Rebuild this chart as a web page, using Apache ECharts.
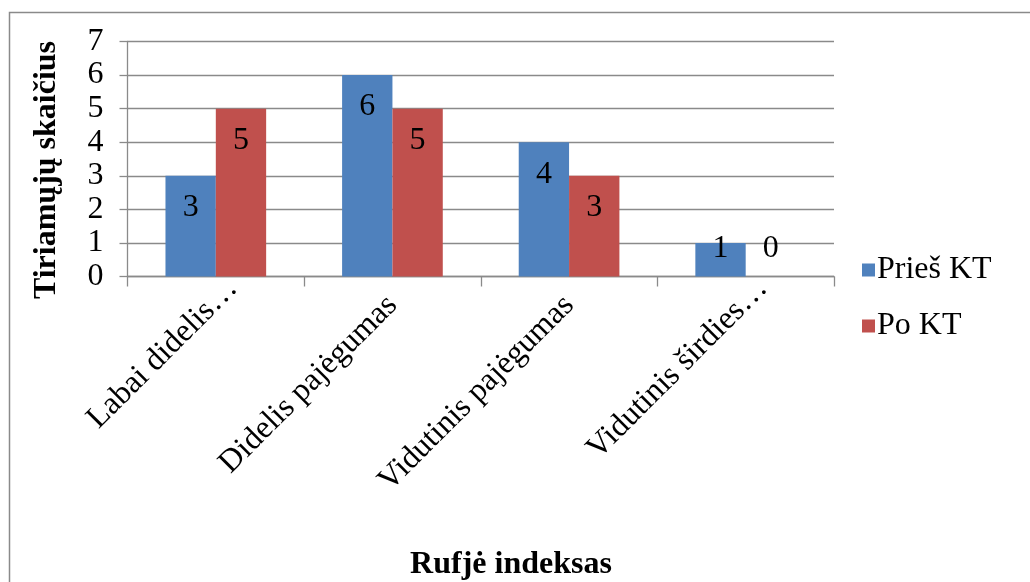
<!DOCTYPE html>
<html>
<head>
<meta charset="utf-8">
<style>
  html, body { margin: 0; padding: 0; background: #fff; }
  #chart { width: 1030px; height: 582px; }
</style>
<script src="https://cdn.jsdelivr.net/npm/echarts@6/dist/echarts.min.js"></script>
</head>
<body>
<div id="chart"></div>
<script>
// Rufjė index groups, participant counts before and after training
const categories = ['Labai didelis…', 'Didelis pajėgumas', 'Vidutinis pajėgumas', 'Vidutinis širdies…'];
const priesKT = [3, 6, 4, 1];
const poKT = [5, 5, 3, 0];
const yTicks = [0, 1, 2, 3, 4, 5, 6, 7];

const FONT = '"Liberation Serif", "Times New Roman", serif';
const SIZE = 32;
const GRID = '#8a8a8a';

// Labels sit just under the bar top; short bars get them lifted above the axis
function barData(values) {
  return values.map(v => v <= 1
    ? { value: v, label: { position: 'insideBottom', distance: 12 } }
    : v);
}

// Shortened (ellipsis) category names run a little past their tick
function axisData(names) {
  return names.map(n => n.endsWith('…')
    ? { value: n, textStyle: { padding: [0, -24, 0, 0] } }
    : n);
}

const chart = echarts.init(document.getElementById('chart'), null, { renderer: 'canvas' });

const labelStyle = {
  show: true,
  position: 'insideTop',
  distance: 16,
  color: '#000',
  fontFamily: FONT,
  fontSize: SIZE
};

chart.setOption({
  animation: false,
  backgroundColor: '#fff',
  textStyle: { fontFamily: FONT },
  grid: {
    left: 127.5, right: 196, top: 41.5, bottom: 305.5,
    containLabel: false, outerBoundsMode: 'none'
  },
  legend: {
    orient: 'vertical',
    left: 857, top: 249,
    itemWidth: 13, itemHeight: 13, itemGap: 24,
    icon: 'rect',
    textStyle: { fontFamily: FONT, fontSize: SIZE, color: '#000', padding: [0, 0, 0, -3] },
    data: ['Prieš KT', 'Po KT']
  },
  xAxis: {
    type: 'category',
    data: axisData(categories),
    boundaryGap: true,
    axisLine: { show: true, lineStyle: { color: GRID, width: 1.3 } },
    axisTick: { show: true, length: 10, lineStyle: { color: GRID, width: 1.3 } },
    axisLabel: {
      interval: 0, rotate: 45, margin: 24,
      color: '#000', fontFamily: FONT, fontSize: SIZE
    }
  },
  yAxis: {
    type: 'value',
    min: yTicks[0], max: yTicks[yTicks.length - 1], interval: 1,
    axisLine: { show: true, lineStyle: { color: GRID, width: 1.3 } },
    axisTick: { show: true, inside: false, length: 8, lineStyle: { color: GRID, width: 1.3 } },
    axisLabel: { margin: 24, color: '#000', fontFamily: FONT, fontSize: SIZE },
    splitLine: { show: true, lineStyle: { color: GRID, width: 1.3 } }
  },
  series: [
    {
      name: 'Prieš KT', type: 'bar',
      data: barData(priesKT),
      itemStyle: { color: '#4F81BD' },
      barGap: '0%', barCategoryGap: '43%',
      label: labelStyle
    },
    {
      name: 'Po KT', type: 'bar',
      data: barData(poKT),
      itemStyle: { color: '#C0504D' },
      barGap: '0%', barCategoryGap: '43%',
      label: labelStyle
    }
  ],
  graphic: [
    {
      type: 'rect', silent: true, z: -1,
      shape: { x: 9.5, y: 12.5, width: 1100, height: 700 },
      style: { fill: null, stroke: '#8a8a8a', lineWidth: 1.5 }
    },
    {
      // vertical axis title
      type: 'text', silent: true,
      x: 47, y: 170, rotation: Math.PI / 2,
      style: {
        text: 'Tiriamųjų skaičius',
        align: 'center', verticalAlign: 'middle',
        font: 'bold ' + SIZE + 'px ' + FONT, fill: '#000'
      }
    },
    {
      // horizontal axis title
      type: 'text', silent: true,
      x: 511, y: 565,
      style: {
        text: 'Rufjė indeksas',
        align: 'center', verticalAlign: 'middle',
        font: 'bold ' + SIZE + 'px ' + FONT, fill: '#000'
      }
    }
  ]
});
</script>
</body>
</html>
